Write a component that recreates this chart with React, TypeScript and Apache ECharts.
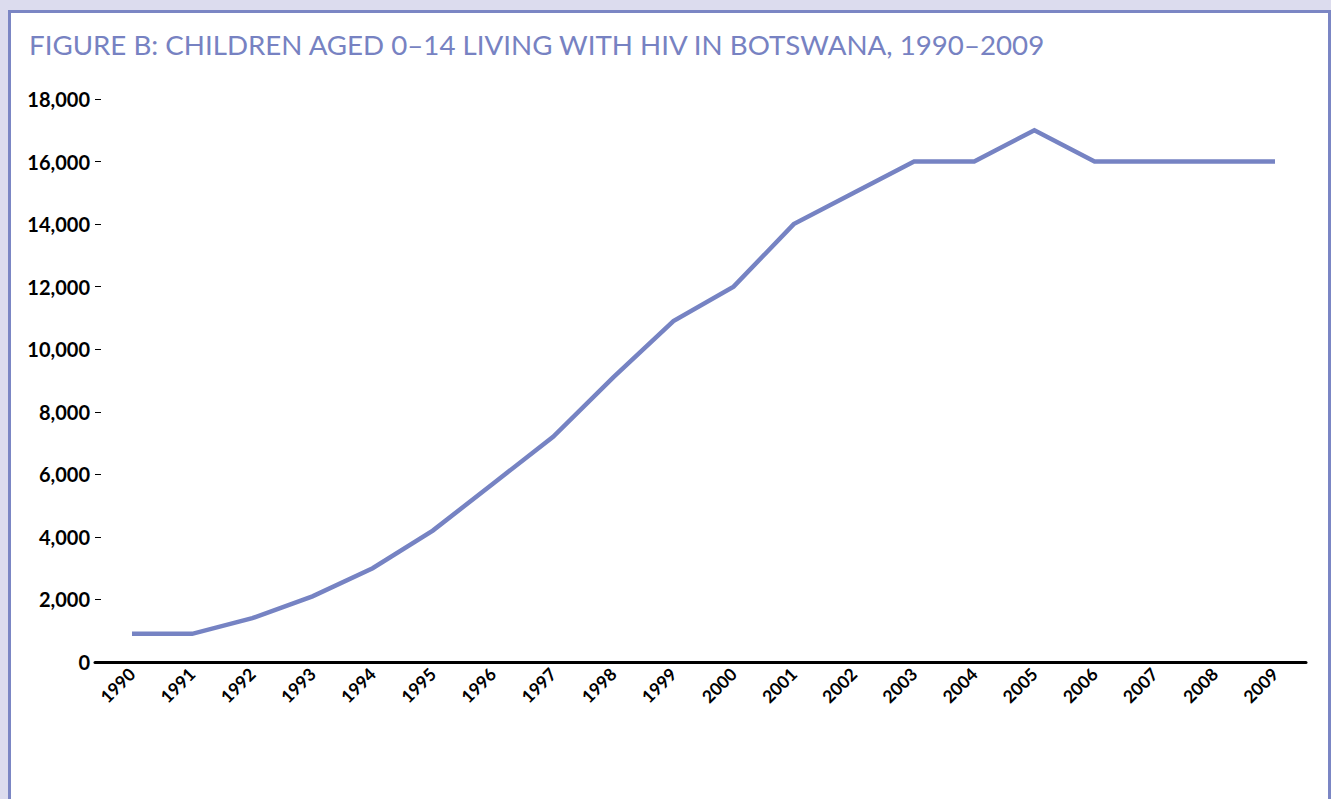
import React, { useEffect, useRef } from "react";
import * as echarts from "echarts";

const titleText = "FIGURE B: CHILDREN AGED 0–14 LIVING WITH HIV IN BOTSWANA, 1990–2009";
const years = [1990, 1991, 1992, 1993, 1994, 1995, 1996, 1997, 1998, 1999, 2000, 2001, 2002, 2003, 2004, 2005, 2006, 2007, 2008, 2009];
const children = [900, 900, 1400, 2100, 3000, 4200, 5700, 7200, 9100, 10900, 12000, 14000, 15000, 16000, 16000, 17000, 16000, 16000, 16000, 16000];
const yTicks = { min: 0, max: 18000, interval: 2000 };

export default function App() {
  const ref = useRef<HTMLDivElement>(null);
  useEffect(() => {
    if (!ref.current) return;
    const chart = echarts.init(ref.current, undefined, { renderer: "svg" });
    chart.setOption({
      animation: false,
      title: {
        text: titleText,
        left: 24,
        top: 25,
        textStyle: { fontFamily: "Lato", fontWeight: "normal", fontSize: 27.7, color: "#7782c2" },
      },
      grid: { left: 95, right: 25, top: 99, bottom: 137, containLabel: false },
      xAxis: {
        type: "value",
        min: 1989.385,
        max: 2009.515,
        splitLine: { show: false },
        axisTick: { show: false },
        axisLine: { show: true, onZero: false, lineStyle: { color: "#000", width: 3 } },
        axisLabel: {
          customValues: years,
          rotate: 45,
          margin: 9,
          formatter: (v: number) => String(v),
          fontFamily: "Lato",
          fontWeight: "bold",
          fontSize: 17.5,
          color: "#000",
        },
      },
      yAxis: {
        type: "value",
        min: yTicks.min,
        max: yTicks.max,
        interval: yTicks.interval,
        splitLine: { show: false },
        axisLine: { show: false },
        axisTick: { show: true, inside: true, length: 6, lineStyle: { color: "#000", width: 1 } },
        axisLabel: {
          margin: 5,
          formatter: (v: number) => v.toLocaleString("en-US"),
          fontFamily: "Lato",
          fontWeight: "bold",
          fontSize: 20,
          color: "#000",
        },
      },
      series: [
        {
          type: "line",
          data: years.map((y, i) => [y, children[i]]),
          showSymbol: false,
          symbol: "none",
          lineStyle: { color: "#7683c3", width: 4.5, cap: "butt", join: "miter" },
          itemStyle: { color: "#7683c3" },
        },
      ],
    });
    return () => chart.dispose();
  }, []);
  return (
    <div style={{ position: "absolute", left: 0, top: 0, width: 1331, height: 799, background: "#dcdcee", overflow: "hidden" }}>
      <div style={{ position: "absolute", left: 8, top: 10, width: 1317, height: 820, background: "#fff", border: "3px solid #7b86c4", boxSizing: "content-box" }} />
      <div ref={ref} style={{ position: "absolute", left: 0, top: 0, width: 1331, height: 799 }} />
    </div>
  );
}
